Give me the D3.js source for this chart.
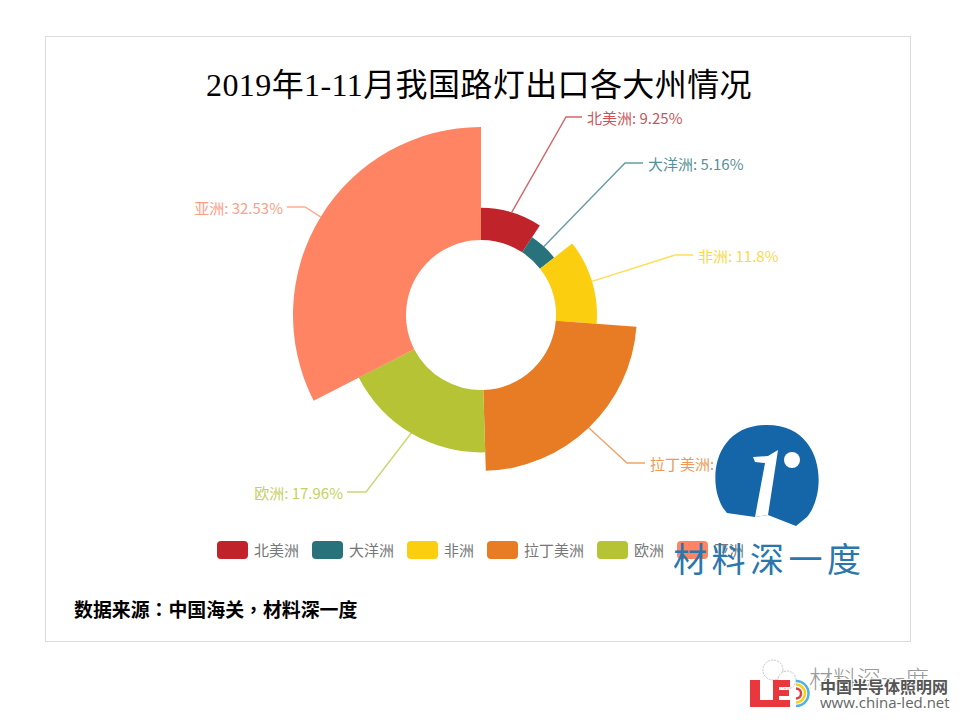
<!DOCTYPE html>
<html>
<head>
<meta charset="utf-8">
<script src="https://cdn.jsdelivr.net/npm/d3@7/dist/d3.min.js"></script>
<style>
  html, body { margin: 0; padding: 0; background: #fff; }
  text { font-family: "Noto Sans CJK SC", sans-serif; }
</style>
</head>
<body>
<svg id="chart" width="960" height="720"></svg>
<script>
var regions = ["北美洲", "大洋洲", "非洲", "拉丁美洲", "欧洲", "亚洲"]
var shares = [9.25, 5.16, 11.8, 23.3, 17.96, 32.53]
var shareLabels = ["9.25%", "5.16%", "11.8%", "23.3%", "17.96%", "32.53%"]
var colours = ["#c1232b", "#27727b", "#fcce10", "#e87c25", "#b5c334", "#fe8463"]

var title = "2019年1-11月我国路灯出口各大州情况"
var source = "数据来源：中国海关，材料深一度"

var svg = d3.select("#chart")

svg.append("rect")
  .attr("x", 45.5).attr("y", 36.5)
  .attr("width", 865).attr("height", 605)
  .attr("fill", "#fff").attr("stroke", "#dcdcdc")

svg.append("text")
  .attr("x", 479).attr("y", 96)
  .attr("text-anchor", "middle")
  .attr("font-size", 32)
  .attr("letter-spacing", 0.4)
  .style("font-family", "'Liberation Serif', 'Noto Sans CJK SC'")
  .attr("fill", "#000")
  .text(title)

/*
  Rose
*/
var cx = 481, cy = 315

var radius = d3.scaleLinear()
  .domain([0, d3.max(shares)])
  .range([75, 188])

var pie = d3.pie().sort(null)(shares)

var arc = d3.arc()
  .innerRadius(75)
  .outerRadius(function(d){return radius(d.value)})

var rose = svg.append("g").attr("transform", "translate(" + cx + "," + cy + ")")

rose.selectAll("path")
  .data(pie)
  .enter()
  .append("path")
  .attr("d", arc)
  .attr("fill", function(d, i){return colours[i]})

// Leader elbows sit where the original's label layout pushed them
var elbows = [[85, -198], [144, -152], [194, -60], [146, 148], [-115, 177], [-176, -108]]
var stubs = [16, 18, 18, 18, -19, -18]

rose.selectAll("polyline")
  .data(pie)
  .enter()
  .append("polyline")
  .attr("fill", "none")
  .attr("stroke", function(d, i){return colours[i]})
  .attr("stroke-opacity", 0.7)
  .attr("stroke-width", 1.4)
  .attr("points", function(d, i){
    var mid = (d.startAngle + d.endAngle) / 2
    var r = radius(d.value)
    var start = [Math.sin(mid) * r, -Math.cos(mid) * r]
    var e = elbows[i]
    return [start, e, [e[0] + stubs[i], e[1]]].join(" ")
  })

rose.selectAll("text")
  .data(pie)
  .enter()
  .append("text")
  .attr("x", function(d, i){return elbows[i][0] + stubs[i] + (stubs[i] > 0 ? 5 : -4)})
  .attr("y", function(d, i){return elbows[i][1] + 6.5})
  .attr("text-anchor", function(d, i){return stubs[i] > 0 ? "start" : "end"})
  .attr("font-size", 15)
  .attr("fill", function(d, i){return colours[i]})
  .attr("fill-opacity", 0.8)
  .text(function(d, i){return regions[i] + ": " + shareLabels[i]})

/*
  Legend
*/
var legendX = 217
regions.forEach(function(name, i){
  svg.append("rect")
    .attr("x", legendX).attr("y", 541)
    .attr("width", 31).attr("height", 18).attr("rx", 4)
    .attr("fill", colours[i])
  svg.append("text")
    .attr("x", legendX + 37).attr("y", 556)
    .attr("font-size", 15)
    .attr("fill", "#777")
    .text(name)
  legendX += 37 + 15 * name.length + 13
})

svg.append("text")
  .attr("x", 74).attr("y", 617)
  .attr("font-size", 18.9)
  .attr("font-weight", 700)
  .style("font-family", "'Noto Sans CJK TC', sans-serif")
  .attr("fill", "#000")
  .text(source)

/*
  Round logo and wordmark over the legend
*/
var blue = "#1565a9"
var logo = svg.append("g")

logo.append("path")
  .attr("d", "M727,513 C706,490 710,425 767,425 C824,425 828,492 807,517 L796,526 L768,515 L755,517 Z")
  .attr("fill", blue)
logo.append("path")
  .attr("d", "M753,457 L768,456 L778,450 L768,515 L755,517 L765,463 L755,462 Z")
  .attr("fill", "#fff")
logo.append("circle")
  .attr("cx", 792).attr("cy", 460).attr("r", 8)
  .attr("fill", "#fff")

svg.append("text")
  .attr("x", 673).attr("y", 572)
  .attr("font-size", 34)
  .attr("letter-spacing", 4.5)
  .attr("fill", "#2a76ad")
  .text("材料深一度")

/*
  Footer marks
*/
var foot = svg.append("g")

foot.append("circle").attr("cx", 773).attr("cy", 670).attr("r", 10)
  .attr("fill", "none").attr("stroke", "#c4c4c4").attr("stroke-dasharray", "2 1")
foot.append("circle").attr("cx", 787).attr("cy", 680).attr("r", 9)
  .attr("fill", "#fff").attr("stroke", "#c4c4c4").attr("stroke-dasharray", "2 1")

foot.append("text")
  .attr("x", 809).attr("y", 688)
  .attr("font-size", 24)
  .attr("font-weight", 300)
  .attr("fill", "#999")
  .text("材料深一度")

foot.append("path")
  .attr("d", "M750,680 H760 V700 H790 V707 H750 Z M773,680 H790 V687 H779 V690 H789 V696 H779 V700 H773 Z")
  .attr("fill", "#e8383d")

;[["#4fb3e0", 12.5], ["#fcce10", 9], ["#e8383d", 5]].forEach(function(ring){
  foot.append("path")
    .attr("d", "M796," + (693.5 - ring[1]) + " a" + ring[1] + "," + ring[1] + " 0 0 1 0," + (ring[1] * 2))
    .attr("fill", "none")
    .attr("stroke", ring[0])
    .attr("stroke-width", 2.5)
})

foot.append("text")
  .attr("x", 820).attr("y", 693)
  .attr("font-size", 16)
  .attr("font-weight", 700)
  .attr("fill", "#555")
  .attr("stroke", "#fff")
  .attr("stroke-width", 2)
  .style("paint-order", "stroke")
  .text("中国半导体照明网")

foot.append("text")
  .attr("x", 820).attr("y", 708)
  .attr("font-size", 15)
  .style("font-family", "'Open Sans', sans-serif")
  .attr("fill", "#666")
  .text("www.china-led.net")
</script>
</body>
</html>
